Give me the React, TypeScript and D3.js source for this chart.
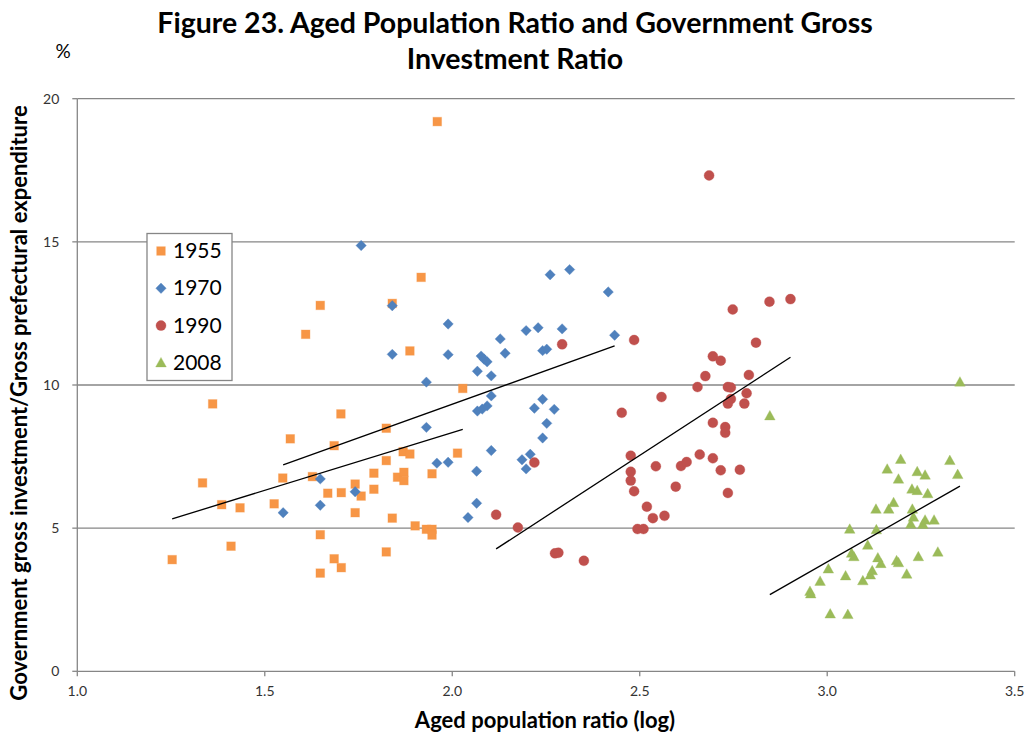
import React from 'react'
import * as d3 from 'd3'

// 1955 (x: log aged population ratio, y: %)
const x1955 = [1.253, 1.334, 1.361, 1.385, 1.41, 1.434, 1.525, 1.548, 1.568, 1.609, 1.627, 1.648, 1.648, 1.648, 1.668, 1.685, 1.685, 1.704, 1.703, 1.704, 1.741, 1.741, 1.757, 1.791, 1.791, 1.824, 1.824, 1.824, 1.84, 1.84, 1.854, 1.869, 1.871, 1.871, 1.887, 1.887, 1.901, 1.917, 1.931, 1.946, 1.946, 1.946, 1.96, 2.014, 2.028]
const y1955 = [3.9, 6.58, 9.34, 5.82, 4.37, 5.71, 5.85, 6.75, 8.12, 11.77, 6.8, 12.78, 4.77, 3.43, 6.22, 7.88, 3.93, 3.62, 8.99, 6.24, 6.54, 5.54, 6.12, 6.92, 6.36, 4.17, 8.49, 7.36, 12.85, 5.35, 6.78, 7.67, 6.95, 6.66, 7.59, 11.19, 5.08, 13.76, 4.96, 4.96, 4.76, 6.9, 19.2, 7.62, 9.88]

// 1970
const x1970 = [1.549, 1.648, 1.648, 1.741, 1.757, 1.84, 1.84, 1.931, 1.931, 1.959, 1.989, 1.989, 1.989, 2.042, 2.065, 2.065, 2.067, 2.067, 2.077, 2.08, 2.085, 2.093, 2.093, 2.104, 2.104, 2.104, 2.128, 2.141, 2.186, 2.197, 2.197, 2.208, 2.219, 2.229, 2.241, 2.252, 2.241, 2.241, 2.252, 2.261, 2.272, 2.293, 2.313, 2.416, 2.433]
const y1970 = [5.54, 6.72, 5.8, 6.27, 14.87, 12.77, 11.07, 10.1, 8.52, 7.27, 7.3, 12.13, 11.06, 5.37, 6.99, 5.87, 10.48, 9.09, 11.01, 9.16, 10.9, 10.81, 9.27, 10.32, 9.62, 7.71, 11.61, 11.11, 7.39, 11.9, 7.07, 7.58, 9.19, 12.0, 11.2, 11.25, 9.5, 8.15, 8.66, 13.85, 9.15, 11.96, 14.03, 13.25, 11.74]

// 1990
const x1990 = [2.117, 2.175, 2.219, 2.274, 2.283, 2.293, 2.351, 2.452, 2.476, 2.476, 2.476, 2.485, 2.485, 2.494, 2.51, 2.519, 2.535, 2.543, 2.558, 2.566, 2.596, 2.61, 2.625, 2.654, 2.66, 2.675, 2.685, 2.695, 2.695, 2.695, 2.716, 2.716, 2.728, 2.728, 2.735, 2.743, 2.743, 2.735, 2.735, 2.748, 2.767, 2.779, 2.785, 2.791, 2.81, 2.846, 2.902]
const y1990 = [5.47, 5.02, 7.29, 4.12, 4.14, 11.42, 3.86, 9.03, 7.53, 6.97, 6.66, 6.29, 11.57, 4.97, 4.97, 5.75, 5.35, 7.16, 9.58, 5.43, 6.45, 7.17, 7.31, 9.93, 7.57, 10.31, 17.32, 11.0, 8.68, 7.44, 10.85, 7.02, 8.53, 8.33, 9.93, 9.91, 9.51, 9.35, 6.23, 12.64, 7.04, 9.35, 9.71, 10.35, 11.48, 12.91, 13.0]

// 2008
const x2008 = [2.847, 2.954, 2.956, 2.981, 3.003, 3.008, 3.049, 3.055, 3.06, 3.065, 3.071, 3.095, 3.108, 3.115, 3.12, 3.13, 3.131, 3.135, 3.143, 3.16, 3.164, 3.177, 3.185, 3.19, 3.19, 3.196, 3.212, 3.223, 3.226, 3.227, 3.23, 3.24, 3.24, 3.243, 3.255, 3.261, 3.261, 3.268, 3.285, 3.295, 3.327, 3.348, 3.354]
const y2008 = [8.92, 2.79, 2.7, 3.14, 3.57, 2.0, 3.33, 1.98, 4.96, 4.12, 4.0, 3.16, 4.4, 3.36, 3.51, 5.66, 4.94, 3.96, 3.76, 7.06, 5.66, 5.89, 3.86, 3.79, 6.71, 7.4, 3.39, 5.14, 6.36, 5.66, 5.38, 6.97, 6.31, 4.0, 5.13, 6.85, 5.28, 6.2, 5.28, 4.16, 7.36, 6.87, 10.1]

const seriesNames = ['1955', '1970', '1990', '2008']
const seriesColors = ['#F79646', '#4F81BD', '#C0504D', '#9BBB59']
const seriesShapes = ['square', 'diamond', 'circle', 'triangle']
const xTicks = [1.0, 1.5, 2.0, 2.5, 3.0, 3.5]
const yTicks = [0, 5, 10, 15, 20]

const W = 1026
const H = 737
const margin = { left: 77.3, right: 11.3, top: 98.7, bottom: 65.7 }
const FONT = 'Lato, "Open Sans", sans-serif'

const xs = [x1955, x1970, x1990, x2008]
const ys = [y1955, y1970, y1990, y2008]

// linear least-squares fit, drawn over the data range like Excel's trendline
function fit(x: number[], y: number[]) {
    const mx = d3.mean(x) as number
    const my = d3.mean(y) as number
    let sxy = 0
    let sxx = 0
    x.forEach((v, i) => {
        sxy += (v - mx) * (y[i] - my)
        sxx += (v - mx) * (v - mx)
    })
    const b = sxy / sxx
    const a = my - b * mx
    const [x0, x1] = d3.extent(x) as [number, number]
    return [
        [x0, a + b * x0],
        [x1, a + b * x1],
    ]
}

function Marker({ shape, cx, cy, color }: { shape: string; cx: number; cy: number; color: string }) {
    const st = { fill: color, stroke: color, strokeOpacity: 0.35, strokeWidth: 1 }
    if (shape === 'square') return <rect x={cx - 4.3} y={cy - 4.3} width={8.6} height={8.6} {...st} />
    if (shape === 'diamond')
        return <polygon points={`${cx},${cy - 5.2} ${cx + 5.2},${cy} ${cx},${cy + 5.2} ${cx - 5.2},${cy}`} {...st} />
    if (shape === 'circle') return <circle cx={cx} cy={cy} r={5} {...st} />
    return <polygon points={`${cx},${cy - 5.5} ${cx + 5.3},${cy + 4} ${cx - 5.3},${cy + 4}`} {...st} />
}

export default function App() {
    const x = d3.scaleLinear().domain([1, 3.5]).range([margin.left, W - margin.right])
    const y = d3.scaleLinear().domain([0, 20]).range([H - margin.bottom, margin.top])
    const line = d3
        .line<number[]>()
        .x((d) => x(d[0]))
        .y((d) => y(d[1]))

    return (
        <div style={{ position: 'absolute', left: 0, top: 0 }}>
            <svg width={W} height={H} style={{ display: 'block', background: '#fff' }} fontFamily={FONT}>
                <text x={515} y={33} textAnchor="middle" fontSize={28.5} fontWeight={700} fill="#000">
                    Figure 23. Aged Population Ratio and Government Gross
                </text>
                <text x={515} y={69} textAnchor="middle" fontSize={28.5} fontWeight={700} fill="#000">
                    Investment Ratio
                </text>
                <text x={63} y={58} textAnchor="middle" fontSize={19} fill="#000">
                    %
                </text>

                {/* gridlines */}
                {yTicks.slice(1).map((t) => (
                    <line key={t} x1={x(1)} x2={x(3.5)} y1={y(t)} y2={y(t)} stroke="#868686" strokeWidth={1.3} />
                ))}
                {/* axes */}
                <line x1={x(1)} x2={x(1)} y1={y(0)} y2={y(20)} stroke="#868686" strokeWidth={1.3} />
                <line x1={x(1)} x2={x(3.5)} y1={y(0)} y2={y(0)} stroke="#868686" strokeWidth={1.3} />
                {yTicks.map((t) => (
                    <g key={t}>
                        <line x1={x(1) - 5} x2={x(1)} y1={y(t)} y2={y(t)} stroke="#868686" strokeWidth={1.3} />
                        <text x={x(1) - 18} y={y(t) + 5} textAnchor="end" fontSize={14} fill="#333">
                            {t}
                        </text>
                    </g>
                ))}
                {xTicks.map((t) => (
                    <g key={t}>
                        <line x1={x(t)} x2={x(t)} y1={y(0)} y2={y(0) + 5} stroke="#868686" strokeWidth={1.3} />
                        <text x={x(t)} y={y(0) + 25} textAnchor="middle" fontSize={14} fill="#333">
                            {t.toFixed(1)}
                        </text>
                    </g>
                ))}

                {/* points */}
                {xs.map((xv, s) => (
                    <g key={s}>
                        {xv.map((v, i) => (
                            <Marker key={i} shape={seriesShapes[s]} cx={x(v)} cy={y(ys[s][i])} color={seriesColors[s]} />
                        ))}
                    </g>
                ))}

                {/* trend lines */}
                {xs.map((xv, s) => (
                    <path key={s} d={line(fit(xv, ys[s])) as string} stroke="#000" strokeWidth={1.3} fill="none" />
                ))}

                {/* legend */}
                <rect x={147} y={233.5} width={85} height={147} fill="#fff" stroke="#868686" strokeWidth={1.3} />
                {seriesNames.map((n, i) => (
                    <g key={n}>
                        <Marker shape={seriesShapes[i]} cx={161} cy={251 + i * 37.3} color={seriesColors[i]} />
                        <text x={173} y={258 + i * 37.3} fontSize={21} fill="#000">
                            {n}
                        </text>
                    </g>
                ))}

                {/* axis titles */}
                <text x={545} y={728} textAnchor="middle" fontSize={22} fontWeight={700} fill="#000">
                    Aged population ratio (log)
                </text>
                <text
                    transform={`translate(27,${(y(0) + y(20)) / 2 + 18}) rotate(-90)`}
                    textAnchor="middle"
                    fontSize={22}
                    fontWeight={700}
                    fill="#000"
                >
                    Government gross investment/Gross prefectural expenditure
                </text>
            </svg>
        </div>
    )
}
